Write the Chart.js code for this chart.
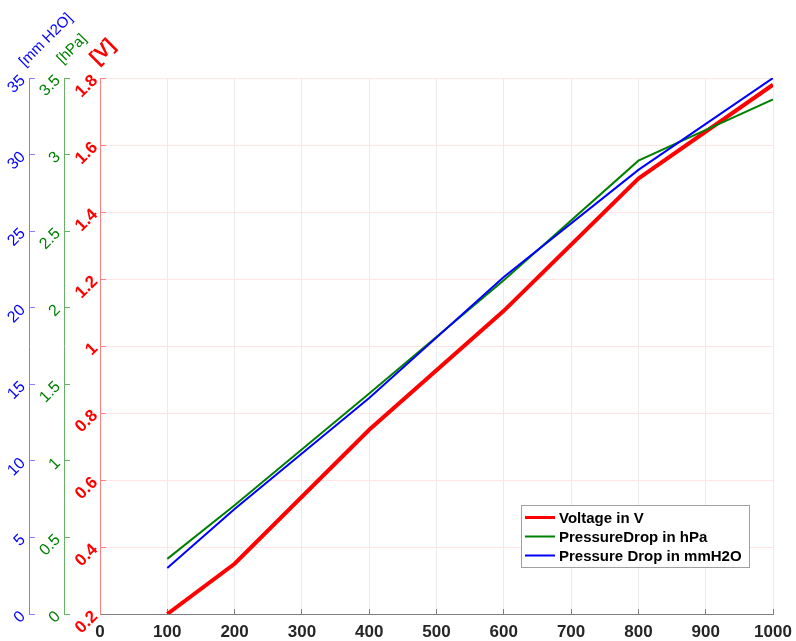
<!DOCTYPE html>
<html>
<head>
<meta charset="utf-8">
<script src="https://cdn.jsdelivr.net/npm/chart.js@4/dist/chart.umd.min.js"></script>
<style>
  html, body { margin: 0; padding: 0; background: #ffffff; }
  canvas { display: block; }
</style>
</head>
<body>
<canvas id="chart" width="796" height="641"></canvas>
<script>
// Flow settings along the horizontal axis
const flowRates = [100, 200, 400, 600, 800, 1000];

// Measured series
const voltageV = [0.20, 0.35, 0.75, 1.105, 1.50, 1.78];
const pressureHPa = [0.36, 0.71, 1.44, 2.18, 2.96, 3.36];
const pressureMmH2O = [3.0, 6.86, 14.1, 22.0, 29.0, 35.0];

const seriesNames = ['Voltage in V', 'PressureDrop in hPa', 'Pressure Drop in mmH2O'];

// Tick values and their printed labels for each axis
const xTicks = [0, 100, 200, 300, 400, 500, 600, 700, 800, 900, 1000];
const xTickLabels = ['0', '100', '200', '300', '400', '500', '600', '700', '800', '900', '1000'];
const voltTicks = [0.2, 0.4, 0.6, 0.8, 1, 1.2, 1.4, 1.6, 1.8];
const voltTickLabels = ['0.2', '0.4', '0.6', '0.8', '1', '1.2', '1.4', '1.6', '1.8'];
const hpaTicks = [0, 0.5, 1, 1.5, 2, 2.5, 3, 3.5];
const hpaTickLabels = ['0', '0.5', '1', '1.5', '2', '2.5', '3', '3.5'];
const mmTicks = [0, 5, 10, 15, 20, 25, 30, 35];
const mmTickLabels = ['0', '5', '10', '15', '20', '25', '30', '35'];

// Axis unit captions
const axisUnits = { mm: '[mm H2O]', hpa: '[hPa]', volt: '[V]' };

const FONT = '"Liberation Sans", Arial, Helvetica, sans-serif';

const toPoints = (xs, ys) => xs.map((x, i) => ({ x: x, y: ys[i] }));
const fixedTicks = (list) => (scale) => { scale.ticks = list.map(v => ({ value: v })); };
const labelFrom = (values, labels) => (value) => {
  const i = values.findIndex(v => Math.abs(v - value) < 1e-9);
  return i >= 0 ? labels[i] : '';
};

// Unit captions drawn above the three left axes, tilted like the tick labels
const unitCaptions = {
  id: 'unitCaptions',
  afterDraw(chart) {
    const { ctx, chartArea, scales } = chart;
    const put = (text, x, y, font, color) => {
      ctx.save();
      ctx.translate(x, y);
      ctx.rotate(-Math.PI / 4);
      ctx.font = font;
      ctx.fillStyle = color;
      ctx.textAlign = 'center';
      ctx.textBaseline = 'middle';
      ctx.fillText(text, 0, 0);
      ctx.restore();
    };
    put(axisUnits.mm, scales.yM.right + 17, chartArea.top - 38, '15px ' + FONT, '#0000ff');
    put(axisUnits.hpa, scales.yP.right + 8, chartArea.top - 29, '15px ' + FONT, '#008000');
    put(axisUnits.volt, scales.yV.right + 3, chartArea.top - 26, 'bold 20px ' + FONT, '#ff0000');
  }
};

// Boxed legend placed inside the plot, lower right
const boxLegend = {
  id: 'boxLegend',
  afterDraw(chart) {
    const { ctx, chartArea } = chart;
    const w = 228, h = 62;
    const x0 = Math.round(chartArea.right - 24 - w);
    const y0 = Math.round(chartArea.bottom - 47 - h);
    ctx.save();
    ctx.fillStyle = '#ffffff';
    ctx.fillRect(x0, y0, w, h);
    ctx.strokeStyle = '#a0a0a0';
    ctx.lineWidth = 1;
    ctx.strokeRect(x0 + 0.5, y0 + 0.5, w, h);
    ctx.font = 'bold 15px ' + FONT;
    ctx.textBaseline = 'middle';
    ctx.textAlign = 'left';
    chart.data.datasets.forEach((ds, i) => {
      const y = y0 + 12.5 + i * 19;
      ctx.strokeStyle = ds.borderColor;
      ctx.lineWidth = ds.legendWidth;
      ctx.beginPath();
      ctx.moveTo(x0 + 4, y);
      ctx.lineTo(x0 + 34, y);
      ctx.stroke();
      ctx.fillStyle = '#000000';
      ctx.fillText(ds.label, x0 + 38, y + 1);
    });
    ctx.restore();
  }
};

const leftAxis = (opts) => ({
  type: 'linear',
  position: 'left',
  min: opts.min,
  max: opts.max,
  weight: opts.weight,
  afterBuildTicks: fixedTicks(opts.ticks),
  afterFit(scale) {
    scale.width = opts.width;
    scale.paddingTop = 0;
    scale.paddingBottom = 0;
  },
  border: { display: true, color: opts.axisColor, width: 1 },
  grid: {
    drawOnChartArea: opts.gridOnArea,
    color: opts.gridColor,
    tickColor: opts.axisColor,
    tickLength: -6,
    lineWidth: 1
  },
  ticks: {
    color: opts.labelColor,
    font: opts.font,
    padding: opts.pad,
    minRotation: 45,
    maxRotation: 45,
    autoSkip: false,
    callback: labelFrom(opts.ticks, opts.labels)
  }
});

new Chart(document.getElementById('chart'), {
  type: 'line',
  data: {
    datasets: [
      {
        label: seriesNames[0],
        data: toPoints(flowRates, voltageV),
        yAxisID: 'yV',
        borderColor: '#ff0000',
        borderWidth: 4,
        legendWidth: 3,
        order: 2
      },
      {
        label: seriesNames[1],
        data: toPoints(flowRates, pressureHPa),
        yAxisID: 'yP',
        borderColor: '#008000',
        borderWidth: 2,
        legendWidth: 2,
        order: 1
      },
      {
        label: seriesNames[2],
        data: toPoints(flowRates, pressureMmH2O),
        yAxisID: 'yM',
        borderColor: '#0000ff',
        borderWidth: 2,
        legendWidth: 2,
        order: 0
      }
    ]
  },
  options: {
    responsive: false,
    animation: false,
    devicePixelRatio: 1,
    layout: { padding: { top: 78, right: 23, bottom: 0, left: 0 } },
    elements: {
      point: { radius: 0, hoverRadius: 0 },
      line: { tension: 0, fill: false, borderJoinStyle: 'miter' }
    },
    plugins: {
      legend: { display: false },
      tooltip: { enabled: false }
    },
    scales: {
      x: {
        type: 'linear',
        position: 'bottom',
        min: 0,
        max: 1000,
        afterBuildTicks: fixedTicks(xTicks),
        afterFit(scale) {
          scale.height = 27;
          scale.paddingLeft = 0;
          scale.paddingRight = 0;
        },
        border: { display: true, color: '#7f7f7f', width: 1 },
        grid: {
          color: '#ebebeb',
          tickColor: '#7f7f7f',
          tickLength: -5,
          lineWidth: 1
        },
        ticks: {
          color: '#262626',
          font: { family: FONT, size: 17, weight: 'bold' },
          padding: 13,
          maxRotation: 0,
          autoSkip: false,
          callback: labelFrom(xTicks, xTickLabels)
        }
      },
      yM: leftAxis({
        min: 0, max: 35, ticks: mmTicks, labels: mmTickLabels, weight: 3, width: 29,
        axisColor: '#8080ff', labelColor: '#0000ff', gridOnArea: false, gridColor: '#8080ff',
        font: { family: FONT, size: 16 }, pad: 12
      }),
      yP: leftAxis({
        min: 0, max: 3.5, ticks: hpaTicks, labels: hpaTickLabels, weight: 2, width: 35,
        axisColor: '#66b366', labelColor: '#008000', gridOnArea: false, gridColor: '#66b366',
        font: { family: FONT, size: 16 }, pad: 12
      }),
      yV: leftAxis({
        min: 0.2, max: 1.8, ticks: voltTicks, labels: voltTickLabels, weight: 1, width: 36,
        axisColor: '#ff8080', labelColor: '#ff0000', gridOnArea: true, gridColor: '#ffe4e4',
        font: { family: FONT, size: 17, weight: 'bold' }, pad: 11
      })
    }
  },
  plugins: [unitCaptions, boxLegend]
});
</script>
</body>
</html>
